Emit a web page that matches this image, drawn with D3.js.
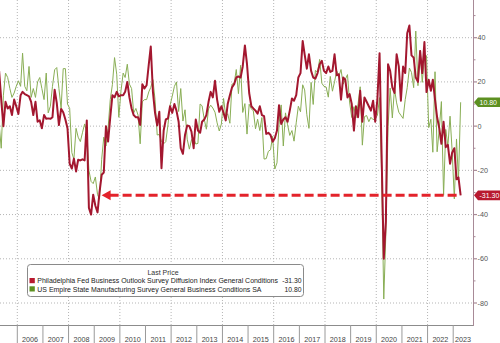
<!DOCTYPE html>
<html><head><meta charset="utf-8">
<script src="https://cdn.jsdelivr.net/npm/d3@7/dist/d3.min.js"></script>
<style>body{margin:0;background:#fff}svg{display:block}</style>
</head><body>
<svg id="chart" width="500" height="343"></svg>
<script>
// ---- DATA (monthly, first value = April 2005) ----
const startYear = 2005, startMonth = 4;
const philly = [
  25, 12, 0, 11, 8, 9, 5, 12, 9,
  5.5, 14, 15.5, 14.5, 14, 13.5, 11, 5, 11, 2, 2.6, -1,
  5, 3.3, 3.5, 3.3, 4, 16.5, 10.5, 0.5, 7.8, 6.3, 3, -1,
  -17, -19.2, -14.7, -20.5, -15.2, -15.5, -15, -15.5, 2.6, -37, -40, -31,
  -36, -39, -30, -22, -21, 0, -7, 4, 14, 13, 15.5, 13.5,
  14, 14, 15.5, 20, 13, 8, 5, 4, 4, 0.5, 19, 17,
  18.5, 28, 36, 15.5, 6, 0.3, 6.5, -19, -2, 3, 3.5, 9,
  6, 10, 7, 2, -10, -12.5, -4, 0.3, 0, -2.5, -10, 3,
  -2, -3, 2, 3, 5, 11, 15.5, 13, 20.5, 12, 6.5, 9,
  6, 2.6, 10, 14, 17.5, 19, 22, 22.5, 22, 27, 36.5, 28,
  15, 9, 8, 7, 5.6, 9, 5, 4.5, -3.5, -3, -4, -7,
  -5.5, -2, 9.5, 1, 3, 4, 2, 7, 12.5, 11.5, 14, 22,
  24, 38.5, 32.5, 26, 32.5, 25, 22, 21.5, 24, 28, 29.5, 25,
  24, 27, 24.5, 25, 32.5, 23, 23.5, 12, 22, 21, 13, 14.5,
  10, -2, 9, 4, 16, 2, 13, 11, 9, 7, 11.5, 2,
  12, 33, -12.7, -60, -43, 28, 25, 17.5, 15, 32.5, 27, 11.5,
  27, 24, 42, 45.5, 32, 31, 22, 20, 34, 24, 38, 15.4,
  21, 16, 21, 12, 4, -1, -8, 2, -9.5, -8.5, -17, -12,
  -10, -24, -23.2, -31.3
];
const empire = [
  1, -10, 14, 24, 22, 17, 13, 15, 18,
  20.5, 18, 33, 18, 16, 27, 13, 17, 13, 20, 22, 17,
  12, 24, 6, 9, 18, 25.5, 26.5, 17, 8, 26, 26, 10,
  8, -12, -15, -1, -5, -7, -3, 1, -3, -20, -25, -26,
  -23, -31, -33, -15, -5, -9, -1, 12, 18.9, 31, 23.5, 4,
  16, 24, 22, 28, 19, 17, 6, 8, 5, -8, 11, 12,
  12, 15.5, 17.5, 21, 12, -4, -3.8, -7, -8, -7, 0.6, 9.5,
  13.5, 18, 20, 6.6, 17, 2.3, 7.4, -5.9, -10.4, -6.2, -5.2, -8.1,
  -7.8, 10, 9.2, 3.1, -1.4, 7.8, 9.5, 8.2, 6.3, 1.5, -2.2, 1,
  12.5, 4.5, 5.6, 1.3, 19, 19.3, 25.6, 14.7, 27.5, 6.2, 10.2, -3.6,
  9.9, 7.8, 6.9, -1.2, 3.1, -2, 3.9, -14.9, -14.7, -11.4, -10.7, -4.6,
  -19.4, -16.6, 0.6, 9.6, -9, 6, 0.6, -4.2, -2, -6.8, 1.5, 9,
  6.5, 18.7, 16.4, 5.2, -1, 19.8, 9.8, 25.2, 24.4, 30.2, 19.4, 18,
  17.7, 13.1, 22.5, 15.8, 20.1, 25, 22.6, 25.6, 19, 21.1, 23.3, 10.9,
  3.9, 8.8, 3.7, 10.1, 17.8, -8.6, 4.3, 4.8, 2, 4, 2.9, 3.5,
  4.8, 12.9, -21.5, -78.2, -48.5, -0.2, 17.2, 3.7, 17, 10.5, 6.3, 4.9,
  3.5, 12.1, 17.4, 26.3, 24.3, 17.4, 43, 18.3, 34.3, 19.8, 30.9, 31.9,
  -0.7, 3.1, -11.8, 24.6, -11.6, -1.2, 11.1, -31.3, -1.5, -9.1, 4.5, -11.2,
  -32.9, -5.8, -24.6, 10.8
];
const yTicks = [40, 20, 0, -20, -40, -60, -80];
const yMinorTicks = [50, 30, 10, -10, -30, -50, -70];
const yearLabels = [2006,2007,2008,2009,2010,2011,2012,2013,2014,2015,2016,2017,2018,2019,2020,2021,2022,2023];
const gridYears = [2006,2008,2010,2012,2014,2016,2018,2020,2022];
const seriesNames = [
  "Philadelphia Fed Business Outlook Survey Diffusion Index General Conditions",
  "US Empire State Manufacturing Survey General Business Conditions SA"
];
const lastValues = ["-31.30", "10.80"];
const legendTitle = "Last Price";
const arrowTipDate = new Date(2009, 3, 16);

// ---- STYLE / LAYOUT ----
const RED = "#a3172f", GREEN = "#89ae55", RED_LBL = "#b8192f", GREEN_LBL = "#5d9021", ARROW = "#e3232b";
const FONT = "'Liberation Sans', Arial, sans-serif";
const plotR = 473, plotB = 325;

const svg = d3.select("#chart");
const x = d3.scaleTime().domain([new Date(2006,0,1), new Date(2023,0,1)]).range([17.3, 453.2]);
const y = d3.scaleLinear().domain([-80, 40]).range([303, 37.7]);
const dateOf = i => new Date(startYear, startMonth - 1 + i, 17);

const P = philly.map((v,i)=>({d:dateOf(i), v}));
const E = empire.map((v,i)=>({d:dateOf(i), v}));

svg.append("defs").append("clipPath").attr("id","clip")
  .append("rect").attr("x",0).attr("y",0).attr("width",plotR).attr("height",plotB);

// grid
const grid = svg.append("g");
grid.selectAll("line.h").data(yTicks).enter().append("line")
  .attr("x1",0).attr("x2",plotR).attr("y1",d=>y(d)).attr("y2",d=>y(d))
  .attr("stroke","#b5b5b5").attr("stroke-width",1).attr("stroke-dasharray","1,2");
grid.selectAll("line.v").data(gridYears).enter().append("line")
  .attr("x1",d=>x(new Date(d,0,1))).attr("x2",d=>x(new Date(d,0,1)))
  .attr("y1",0).attr("y2",plotB)
  .attr("stroke","#b5b5b5").attr("stroke-width",1).attr("stroke-dasharray","1,2");

// legend
const lg = svg.append("g");
lg.append("rect").attr("x",27.5).attr("y",264.5).attr("width",276).attr("height",32).attr("rx",3)
  .attr("fill","#fff").attr("stroke","#8a8a8a").attr("stroke-width",1);
lg.append("text").attr("x",163).attr("y",275.3).attr("text-anchor","middle")
  .attr("font-family",FONT).attr("font-size",7).attr("fill","#333").text(legendTitle);
const rowsY = [283.3, 291.6];
const swC = [RED_LBL, GREEN_LBL];
const targetW = [241, 224.5];
seriesNames.forEach((n,k)=>{
  lg.append("rect").attr("x",29.5).attr("y",rowsY[k]-5.3).attr("width",5.3).attr("height",5.2).attr("fill",swC[k]);
  const t = lg.append("text").attr("x",37.3).attr("y",rowsY[k]).attr("font-family",FONT)
    .attr("font-size",7).attr("fill","#222").text(n);
  const w = t.node().getComputedTextLength();
  t.attr("font-size", 7*targetW[k]/w);
  lg.append("text").attr("x",301.5).attr("y",rowsY[k]).attr("text-anchor","end").attr("font-family",FONT)
    .attr("font-size",6.8).attr("fill","#222").text(lastValues[k]);
});

// lines
const line = d3.line().x(d=>x(d.d)).y(d=>y(d.v));
const lines = svg.append("g").attr("clip-path","url(#clip)");
lines.append("path").datum(E).attr("d",line).attr("fill","none").attr("stroke",GREEN)
  .attr("stroke-width",1).attr("stroke-linejoin","round");
lines.append("path").datum(P).attr("d",line).attr("fill","none").attr("stroke",RED)
  .attr("stroke-width",2).attr("stroke-linejoin","round");

// arrow annotation
const lastP = P[P.length-1];
const ay = y(+lastValues[0]);
const ax0 = x(arrowTipDate);
svg.append("line").attr("x1",ax0+8).attr("x2",x(lastP.d)).attr("y1",ay).attr("y2",ay)
  .attr("stroke",ARROW).attr("stroke-width",3).attr("stroke-dasharray","9,4");
svg.append("path").attr("d",`M${ax0},${ay} L${ax0+9},${ay-5} L${ax0+9},${ay+5} Z`).attr("fill",ARROW);

// axes
svg.append("line").attr("x1",0).attr("x2",plotR).attr("y1",plotB+0.5).attr("y2",plotB+0.5)
  .attr("stroke","#8c8c8c").attr("stroke-width",1);
svg.append("line").attr("x1",plotR+0.5).attr("x2",plotR+0.5).attr("y1",0).attr("y2",plotB+1)
  .attr("stroke","#a88a97").attr("stroke-width",1);

const ax = svg.append("g");
ax.selectAll("line.mj").data(yTicks).enter().append("line")
  .attr("x1",plotR+0.5).attr("x2",plotR+4).attr("y1",d=>y(d)).attr("y2",d=>y(d))
  .attr("stroke","#a88a97").attr("stroke-width",1.2);
ax.selectAll("line.mn").data(yMinorTicks).enter().append("line")
  .attr("x1",plotR+0.5).attr("x2",plotR+2.5).attr("y1",d=>y(d)).attr("y2",d=>y(d))
  .attr("stroke","#a88a97").attr("stroke-width",1);
ax.selectAll("text").data(yTicks).enter().append("text")
  .attr("x",477.5).attr("y",d=>y(d)).attr("dy","0.35em")
  .attr("font-family",FONT).attr("font-size",7.2).attr("fill","#555").text(d=>d);

// year cells
const xa = svg.append("g");
yearLabels.forEach(yr=>{
  const a = x(new Date(yr,0,1)), b = Math.min(x(new Date(yr+1,0,1)), plotR);
  xa.append("line").attr("x1",a).attr("x2",a).attr("y1",plotB).attr("y2",343)
    .attr("stroke","#9a9a9a").attr("stroke-width",1);
  xa.append("text").attr("x",(a+b)/2).attr("y",341.8).attr("text-anchor","middle")
    .attr("font-family",FONT).attr("font-size",7.2).attr("fill","#444").text(yr);
});

// last value tags
function tag(v, txt, col){
  const yy = y(v);
  svg.append("path").attr("d",`M${plotR+1},${yy} L${plotR+5},${yy-4.8} L500,${yy-4.8} L500,${yy+4.8} L${plotR+5},${yy+4.8} Z`)
    .attr("fill",col);
  svg.append("text").attr("x",plotR+6.5).attr("y",yy).attr("dy","0.35em").attr("font-family",FONT)
    .attr("font-size",7).attr("fill","#fff").text(txt);
}
tag(+lastValues[1], lastValues[1], GREEN_LBL);
tag(+lastValues[0], lastValues[0], RED_LBL);
</script>
</body></html>
